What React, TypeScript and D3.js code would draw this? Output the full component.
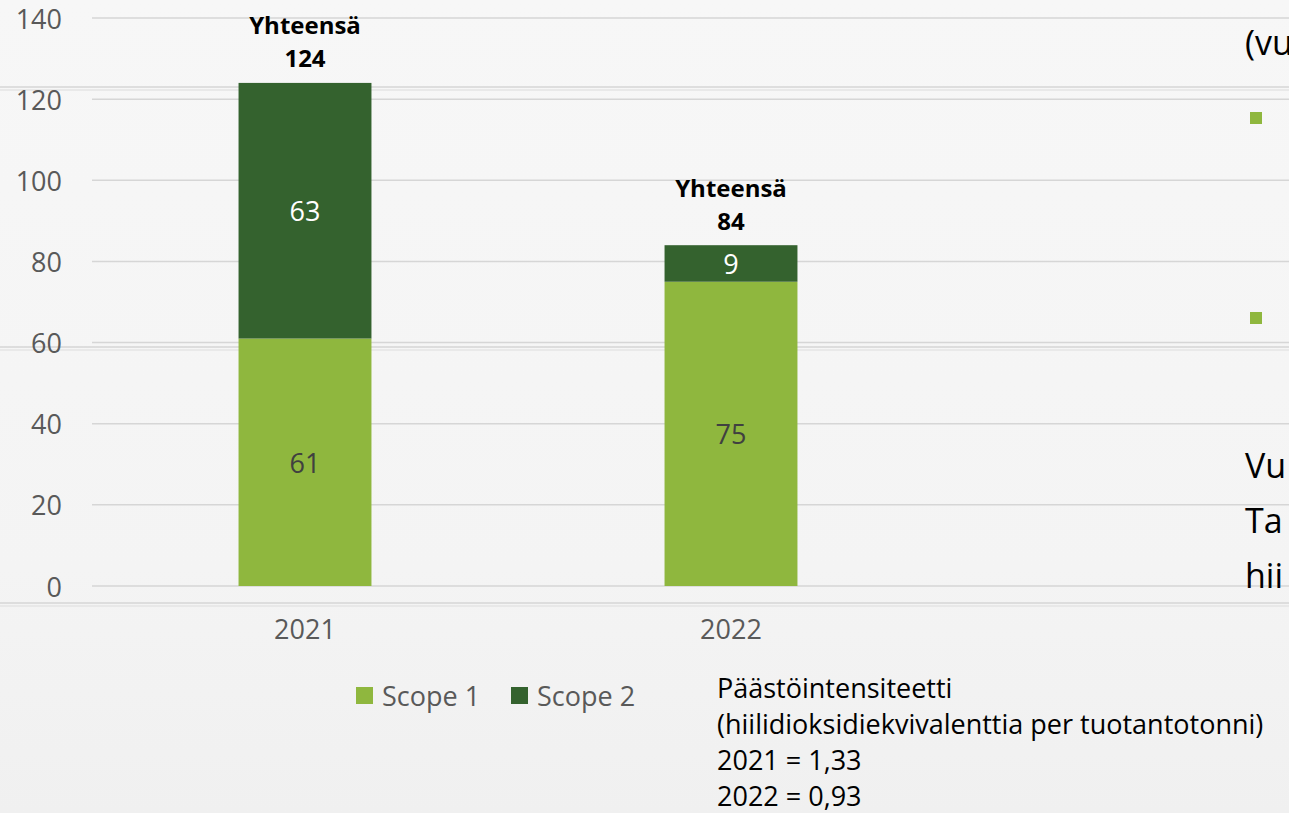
import React from "react";
import * as d3 from "d3";

const years = ["2021", "2022"];
const seriesNames = ["Scope 1", "Scope 2"];
const scope1 = [61, 75];
const scope2 = [63, 9];
const totals = [124, 84];
const yTicks = [0, 20, 40, 60, 80, 100, 120, 140];
const totalWord = "Yhteensä";
const intensityLines = [
  "Päästöintensiteetti",
  "(hiilidioksidiekvivalenttia per tuotantotonni)",
  "2021 = 1,33",
  "2022 = 0,93",
];
const sideTextTop = "(vu";
const sideTextBottom = ["Vu", "Ta", "hii"];

const W = 1289;
const H = 813;
const FONT = "'Open Sans', Lato, sans-serif";
const FS = 27;
const colors = ["#8fb73e", "#34622e"];
const labelColors = ["#404040", "#ffffff"];

export default function App() {
  const x = d3
    .scaleBand<string>()
    .domain(years)
    .range([92, 944])
    .paddingInner(0.688)
    .paddingOuter(0.344);
  const y = d3.scaleLinear().domain([0, 140]).range([586, 18]);

  const rows = years.map((yr, i) => ({ year: yr, "Scope 1": scope1[i], "Scope 2": scope2[i] }));
  const stack = d3.stack<any>().keys(seriesNames)(rows);

  const plankLines = [87, 347, 603];

  return (
    <svg
      width={W}
      height={H}
      style={{ position: "absolute", left: 0, top: 0, fontFamily: FONT }}
    >
      <defs>
        <linearGradient id="bg" x1="0" y1="0" x2="0" y2="1">
          <stop offset="0" stopColor="#f7f7f7" />
          <stop offset="0.7" stopColor="#f4f4f4" />
          <stop offset="1" stopColor="#f0f0f0" />
        </linearGradient>
      </defs>
      <rect x={0} y={0} width={W} height={H} fill="url(#bg)" />
      {plankLines.map((py) => (
        <g key={py}>
          <line x1={0} x2={W} y1={py} y2={py} stroke="#d4d4d4" strokeWidth={2} opacity={0.7} />
          <line x1={0} x2={W} y1={py + 3} y2={py + 3} stroke="#e4e4e4" strokeWidth={2} opacity={0.7} />
        </g>
      ))}

      {/* gridlines */}
      {yTicks.map((t) => (
        <line key={t} x1={92} x2={W} y1={y(t)} y2={y(t)} stroke="#d6d6d6" strokeWidth={1.5} />
      ))}
      {/* y tick labels */}
      {yTicks.map((t) => (
        <text
          key={"t" + t}
          x={62}
          y={y(t)}
          textAnchor="end"
          dominantBaseline="central"
          fontSize={FS}
          fill="#595959"
        >
          {t}
        </text>
      ))}

      {/* bars */}
      {stack.map((layer, si) =>
        layer.map((d, i) => (
          <g key={si + "-" + i}>
            <rect
              x={x(years[i])}
              y={y(d[1])}
              width={x.bandwidth()}
              height={y(d[0]) - y(d[1])}
              fill={colors[si]}
            />
            <text
              x={(x(years[i]) as number) + x.bandwidth() / 2}
              y={(y(d[0]) + y(d[1])) / 2}
              textAnchor="middle"
              dominantBaseline="central"
              fontSize={FS}
              fill={labelColors[si]}
            >
              {d[1] - d[0]}
            </text>
          </g>
        ))
      )}

      {/* totals */}
      {years.map((yr, i) => {
        const cx = (x(yr) as number) + x.bandwidth() / 2;
        const top = y(totals[i]);
        return (
          <g key={"tot" + yr} fontWeight="bold" fill="#000" fontSize={24} textAnchor="middle">
            <text x={cx} y={top - 58} dominantBaseline="central">
              {totalWord}
            </text>
            <text x={cx} y={top - 25} dominantBaseline="central">
              {totals[i]}
            </text>
          </g>
        );
      })}

      {/* year labels */}
      {years.map((yr) => (
        <text
          key={"yl" + yr}
          x={(x(yr) as number) + x.bandwidth() / 2}
          y={628}
          textAnchor="middle"
          dominantBaseline="central"
          fontSize={FS}
          fill="#595959"
        >
          {yr}
        </text>
      ))}

      {/* legend */}
      {seriesNames.map((s, i) => {
        const lx = 356 + i * 155;
        return (
          <g key={"lg" + s}>
            <rect x={lx} y={687} width={17} height={17} fill={colors[i]} />
            <text x={lx + 26} y={695} dominantBaseline="central" fontSize={FS} fill="#595959">
              {s}
            </text>
          </g>
        );
      })}

      {/* intensity text */}
      {intensityLines.map((l, i) => (
        <text key={"il" + i} x={717} y={687 + i * 36} dominantBaseline="central" fontSize={FS} fill="#000">
          {l}
        </text>
      ))}

      {/* cropped side text */}
      <text x={1245} y={42} dominantBaseline="central" fontSize={34} fill="#000">
        {sideTextTop}
      </text>
      <rect x={1250} y={112} width={12} height={12} fill={colors[0]} />
      <rect x={1250} y={312} width={12} height={12} fill={colors[0]} />
      {sideTextBottom.map((l, i) => (
        <text key={"sb" + i} x={1245} y={465 + i * 55} dominantBaseline="central" fontSize={34} fill="#000">
          {l}
        </text>
      ))}
    </svg>
  );
}
